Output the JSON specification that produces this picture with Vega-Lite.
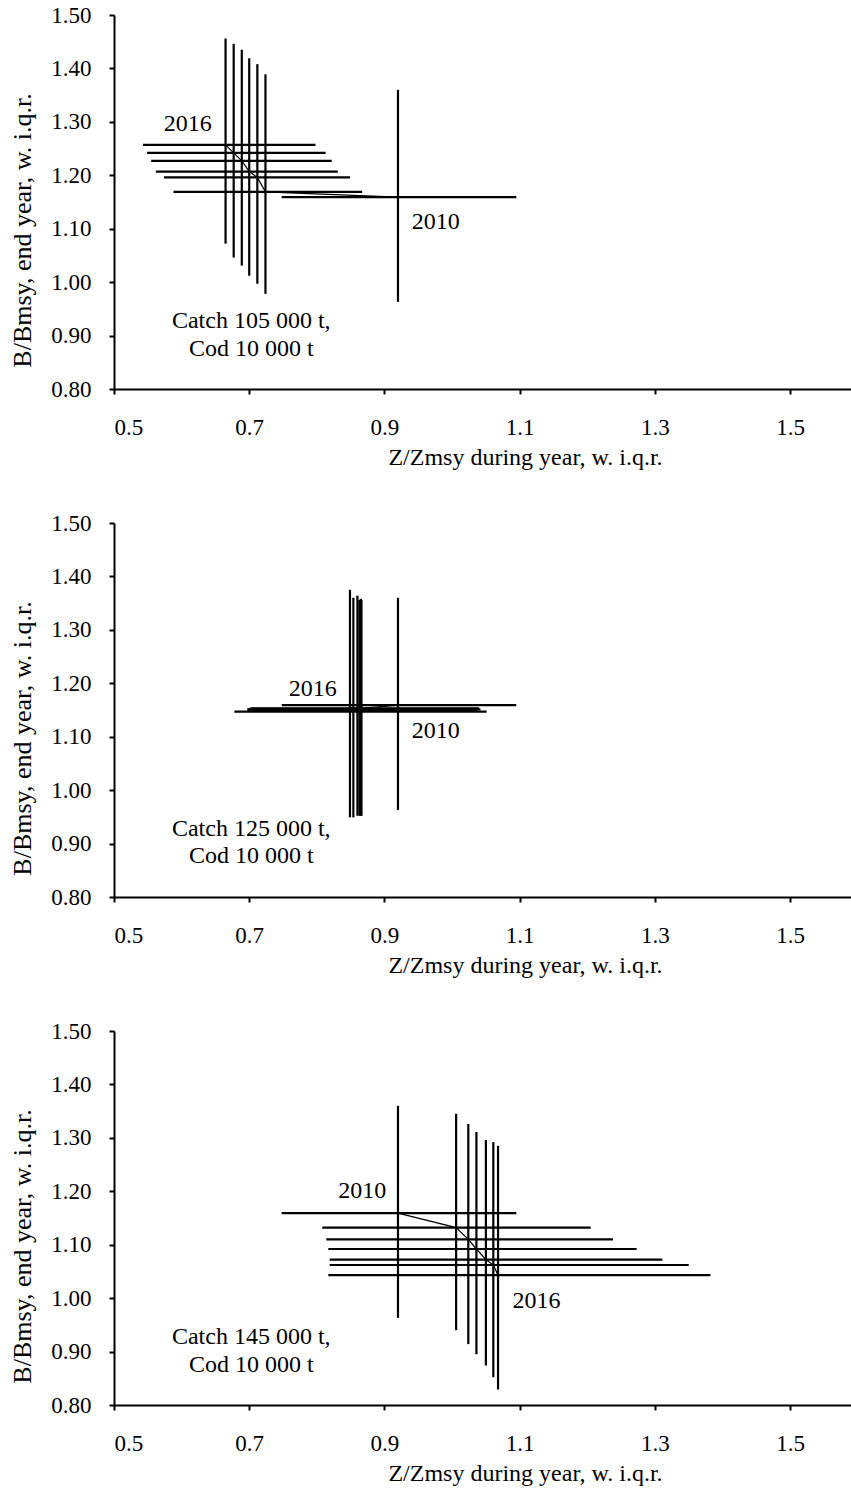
{
  "$schema": "https://vega.github.io/schema/vega-lite/v6.json",
  "padding": {"top": 4, "left": 9, "right": 0, "bottom": 2},
  "background": "white",
  "spacing": 43,
  "config": {
    "view": {"stroke": null},
    "font": "Liberation Serif",
    "axis": {
      "grid": false,
      "domainColor": "black",
      "domainWidth": 2,
      "tickColor": "black",
      "tickWidth": 2,
      "tickSize": 5,
      "labelFont": "Liberation Serif",
      "labelFontSize": 23,
      "labelColor": "black",
      "titleFont": "Liberation Serif",
      "titleFontSize": 24,
      "titleFontWeight": "normal",
      "titleColor": "black"
    },
    "axisLeft": {"titleFontSize": 26},
    "text": {"font": "Liberation Serif", "fontSize": 24, "color": "black"}
  },
  "datasets": {
    "bars": [
      {"panel": 1, "year": 2010, "x": 0.920, "xlo": 0.748, "xhi": 1.095, "y": 1.159, "ylo": 0.963, "yhi": 1.360},
      {"panel": 1, "year": 2011, "x": 0.724, "xlo": 0.588, "xhi": 0.867, "y": 1.169, "ylo": 0.978, "yhi": 1.389},
      {"panel": 1, "year": 2012, "x": 0.712, "xlo": 0.574, "xhi": 0.849, "y": 1.196, "ylo": 0.997, "yhi": 1.408},
      {"panel": 1, "year": 2013, "x": 0.700, "xlo": 0.562, "xhi": 0.831, "y": 1.207, "ylo": 1.012, "yhi": 1.419},
      {"panel": 1, "year": 2014, "x": 0.689, "xlo": 0.555, "xhi": 0.822, "y": 1.227, "ylo": 1.031, "yhi": 1.435},
      {"panel": 1, "year": 2015, "x": 0.677, "xlo": 0.549, "xhi": 0.813, "y": 1.242, "ylo": 1.046, "yhi": 1.446},
      {"panel": 1, "year": 2016, "x": 0.665, "xlo": 0.543, "xhi": 0.798, "y": 1.257, "ylo": 1.072, "yhi": 1.456},
      {"panel": 2, "year": 2010, "x": 0.920, "xlo": 0.748, "xhi": 1.095, "y": 1.159, "ylo": 0.963, "yhi": 1.360},
      {"panel": 2, "year": 2011, "x": 0.866, "xlo": 0.702, "xhi": 1.040, "y": 1.153, "ylo": 0.952, "yhi": 1.356},
      {"panel": 2, "year": 2012, "x": 0.865, "xlo": 0.700, "xhi": 1.038, "y": 1.152, "ylo": 0.952, "yhi": 1.358},
      {"panel": 2, "year": 2013, "x": 0.863, "xlo": 0.699, "xhi": 1.042, "y": 1.151, "ylo": 0.952, "yhi": 1.356},
      {"panel": 2, "year": 2014, "x": 0.860, "xlo": 0.698, "xhi": 1.037, "y": 1.150, "ylo": 0.952, "yhi": 1.364},
      {"panel": 2, "year": 2015, "x": 0.854, "xlo": 0.697, "xhi": 1.038, "y": 1.151, "ylo": 0.949, "yhi": 1.360},
      {"panel": 2, "year": 2016, "x": 0.849, "xlo": 0.678, "xhi": 1.051, "y": 1.147, "ylo": 0.949, "yhi": 1.375},
      {"panel": 3, "year": 2010, "x": 0.920, "xlo": 0.748, "xhi": 1.095, "y": 1.159, "ylo": 0.963, "yhi": 1.360},
      {"panel": 3, "year": 2011, "x": 1.006, "xlo": 0.808, "xhi": 1.205, "y": 1.132, "ylo": 0.940, "yhi": 1.345},
      {"panel": 3, "year": 2012, "x": 1.024, "xlo": 0.814, "xhi": 1.238, "y": 1.110, "ylo": 0.914, "yhi": 1.326},
      {"panel": 3, "year": 2013, "x": 1.036, "xlo": 0.817, "xhi": 1.273, "y": 1.092, "ylo": 0.895, "yhi": 1.311},
      {"panel": 3, "year": 2014, "x": 1.050, "xlo": 0.819, "xhi": 1.311, "y": 1.072, "ylo": 0.874, "yhi": 1.296},
      {"panel": 3, "year": 2015, "x": 1.061, "xlo": 0.819, "xhi": 1.350, "y": 1.062, "ylo": 0.852, "yhi": 1.292},
      {"panel": 3, "year": 2016, "x": 1.068, "xlo": 0.817, "xhi": 1.382, "y": 1.043, "ylo": 0.829, "yhi": 1.285}
    ],
    "labels": [
      {"panel": 1, "x": 0.609, "y": 1.296, "text": "2016"},
      {"panel": 1, "x": 0.976, "y": 1.112, "text": "2010"},
      {"panel": 1, "x": 0.703, "y": 0.928, "text": "Catch 105 000 t,"},
      {"panel": 1, "x": 0.703, "y": 0.875, "text": "Cod 10 000 t"},
      {"panel": 2, "x": 0.794, "y": 1.189, "text": "2016"},
      {"panel": 2, "x": 0.976, "y": 1.111, "text": "2010"},
      {"panel": 2, "x": 0.703, "y": 0.927, "text": "Catch 125 000 t,"},
      {"panel": 2, "x": 0.703, "y": 0.876, "text": "Cod 10 000 t"},
      {"panel": 3, "x": 0.867, "y": 1.200, "text": "2010"},
      {"panel": 3, "x": 1.125, "y": 0.995, "text": "2016"},
      {"panel": 3, "x": 0.703, "y": 0.927, "text": "Catch 145 000 t,"},
      {"panel": 3, "x": 0.703, "y": 0.874, "text": "Cod 10 000 t"}
    ]
  },
  "vconcat": [
    {
      "width": 737, "height": 374,
      "layer": [
        {"data": {"name": "bars"}, "transform": [{"filter": "datum.panel == 1"}], "mark": {"type": "rule", "color": "black", "strokeWidth": 2.2},
         "encoding": {
           "x": {"field": "xlo", "type": "quantitative", "scale": {"domain": [0.5, 1.59], "nice": false, "zero": false},
                 "axis": {"values": [0.5, 0.7, 0.9, 1.1, 1.3, 1.5], "format": ".1f", "labelPadding": 22, "title": "Z/Zmsy during year, w. i.q.r.", "titleX": 411, "titlePadding": 6}},
           "x2": {"field": "xhi"},
           "y": {"field": "y", "type": "quantitative", "scale": {"domain": [0.8, 1.5], "nice": false, "zero": false},
                 "axis": {"values": [0.8, 0.9, 1.0, 1.1, 1.2, 1.3, 1.4, 1.5], "format": ".2f", "labelPadding": 18, "title": "B/Bmsy, end year, w. i.q.r.", "titleY": 215, "titlePadding": 15}}
         }},
        {"data": {"name": "bars"}, "transform": [{"filter": "datum.panel == 1"}], "mark": {"type": "rule", "color": "black", "strokeWidth": 2.2},
         "encoding": {"x": {"field": "x", "type": "quantitative"}, "y": {"field": "ylo", "type": "quantitative"}, "y2": {"field": "yhi"}}},
        {"data": {"name": "bars"}, "transform": [{"filter": "datum.panel == 1"}], "mark": {"type": "line", "color": "black", "strokeWidth": 1.2},
         "encoding": {"x": {"field": "x", "type": "quantitative"}, "y": {"field": "y", "type": "quantitative"}, "order": {"field": "year", "type": "quantitative"}}},
        {"data": {"name": "labels"}, "transform": [{"filter": "datum.panel == 1"}], "mark": {"type": "text", "align": "center", "baseline": "middle"},
         "encoding": {"x": {"field": "x", "type": "quantitative"}, "y": {"field": "y", "type": "quantitative"}, "text": {"field": "text"}}}
      ]
    },
    {
      "width": 737, "height": 374,
      "layer": [
        {"data": {"name": "bars"}, "transform": [{"filter": "datum.panel == 2"}], "mark": {"type": "rule", "color": "black", "strokeWidth": 2.2},
         "encoding": {
           "x": {"field": "xlo", "type": "quantitative", "scale": {"domain": [0.5, 1.59], "nice": false, "zero": false},
                 "axis": {"values": [0.5, 0.7, 0.9, 1.1, 1.3, 1.5], "format": ".1f", "labelPadding": 22, "title": "Z/Zmsy during year, w. i.q.r.", "titleX": 411, "titlePadding": 6}},
           "x2": {"field": "xhi"},
           "y": {"field": "y", "type": "quantitative", "scale": {"domain": [0.8, 1.5], "nice": false, "zero": false},
                 "axis": {"values": [0.8, 0.9, 1.0, 1.1, 1.2, 1.3, 1.4, 1.5], "format": ".2f", "labelPadding": 18, "title": "B/Bmsy, end year, w. i.q.r.", "titleY": 215, "titlePadding": 15}}
         }},
        {"data": {"name": "bars"}, "transform": [{"filter": "datum.panel == 2"}], "mark": {"type": "rule", "color": "black", "strokeWidth": 2.2},
         "encoding": {"x": {"field": "x", "type": "quantitative"}, "y": {"field": "ylo", "type": "quantitative"}, "y2": {"field": "yhi"}}},
        {"data": {"name": "bars"}, "transform": [{"filter": "datum.panel == 2"}], "mark": {"type": "line", "color": "black", "strokeWidth": 1.2},
         "encoding": {"x": {"field": "x", "type": "quantitative"}, "y": {"field": "y", "type": "quantitative"}, "order": {"field": "year", "type": "quantitative"}}},
        {"data": {"name": "labels"}, "transform": [{"filter": "datum.panel == 2"}], "mark": {"type": "text", "align": "center", "baseline": "middle"},
         "encoding": {"x": {"field": "x", "type": "quantitative"}, "y": {"field": "y", "type": "quantitative"}, "text": {"field": "text"}}}
      ]
    },
    {
      "width": 737, "height": 374,
      "layer": [
        {"data": {"name": "bars"}, "transform": [{"filter": "datum.panel == 3"}], "mark": {"type": "rule", "color": "black", "strokeWidth": 2.2},
         "encoding": {
           "x": {"field": "xlo", "type": "quantitative", "scale": {"domain": [0.5, 1.59], "nice": false, "zero": false},
                 "axis": {"values": [0.5, 0.7, 0.9, 1.1, 1.3, 1.5], "format": ".1f", "labelPadding": 22, "title": "Z/Zmsy during year, w. i.q.r.", "titleX": 411, "titlePadding": 6}},
           "x2": {"field": "xhi"},
           "y": {"field": "y", "type": "quantitative", "scale": {"domain": [0.8, 1.5], "nice": false, "zero": false},
                 "axis": {"values": [0.8, 0.9, 1.0, 1.1, 1.2, 1.3, 1.4, 1.5], "format": ".2f", "labelPadding": 18, "title": "B/Bmsy, end year, w. i.q.r.", "titleY": 215, "titlePadding": 15}}
         }},
        {"data": {"name": "bars"}, "transform": [{"filter": "datum.panel == 3"}], "mark": {"type": "rule", "color": "black", "strokeWidth": 2.2},
         "encoding": {"x": {"field": "x", "type": "quantitative"}, "y": {"field": "ylo", "type": "quantitative"}, "y2": {"field": "yhi"}}},
        {"data": {"name": "bars"}, "transform": [{"filter": "datum.panel == 3"}], "mark": {"type": "line", "color": "black", "strokeWidth": 1.2},
         "encoding": {"x": {"field": "x", "type": "quantitative"}, "y": {"field": "y", "type": "quantitative"}, "order": {"field": "year", "type": "quantitative"}}},
        {"data": {"name": "labels"}, "transform": [{"filter": "datum.panel == 3"}], "mark": {"type": "text", "align": "center", "baseline": "middle"},
         "encoding": {"x": {"field": "x", "type": "quantitative"}, "y": {"field": "y", "type": "quantitative"}, "text": {"field": "text"}}}
      ]
    }
  ]
}
